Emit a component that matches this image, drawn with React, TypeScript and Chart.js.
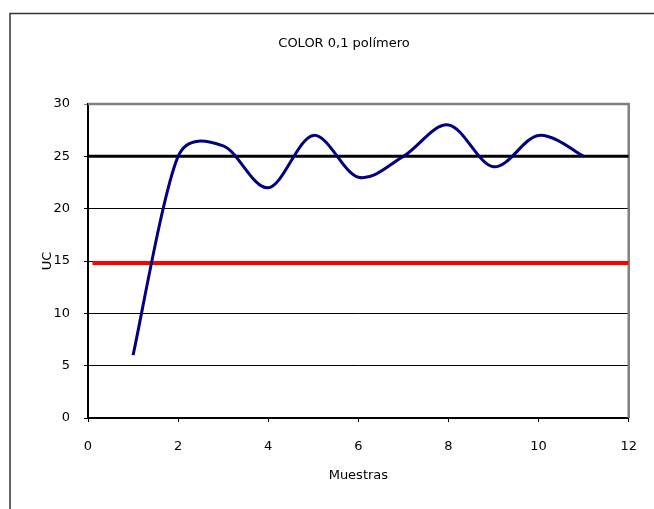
import React, { useEffect, useRef } from "react";
import { Chart, registerables } from "chart.js";

Chart.register(...registerables);

const sampleX = [1, 2, 3, 4, 5, 6, 7, 8, 9, 10, 11];
const colorValues = [6, 25, 26, 22, 27, 23, 25, 28, 24, 27, 25];
const upperLimitX = [0, 12];
const upperLimitY = [25, 25];
const lowerLimitX = [0.1, 12];
const lowerLimitY = [14.8, 14.8];
const xMin = 0;
const xMax = 12;
const xStep = 2;
const yMin = 0;
const yMax = 30;
const yStep = 5;
const chartTitle = "COLOR 0,1 polímero";
const xTitle = "Muestras";
const yTitle = "UC";

const FONT = '"DejaVu Sans", sans-serif';

const dist = (a: any, b: any) => Math.hypot(b.x - a.x, b.y - a.y);

// Excel-style smoothing: Bezier control points computed from the points
// that Chart.js has already placed through its scales.
const excelSmoothPlugin = {
  id: "excelSmooth",
  beforeDatasetsDraw(chart: any) {
    const meta = chart.getDatasetMeta(0);
    if (!meta || !meta.dataset) return;
    meta.dataset.updateControlPoints(chart.chartArea, "x");
    const pts = meta.data;
    const n = pts.length;
    for (let i = 0; i < n - 1; i++) {
      const p1 = pts[i];
      const p2 = pts[i + 1];
      const p0 = i > 0 ? pts[i - 1] : p1;
      const p3 = i + 2 < n ? pts[i + 2] : p2;
      const d12 = dist(p1, p2);
      const d02 = dist(p0, p2);
      const d13 = dist(p1, p3);
      let f = 1 / 6;
      let g = 1 / 6;
      if (d02 / 6 >= d12 / 2 && d02 > 0) f = d12 / 2 / d02;
      if (d13 / 6 >= d12 / 2 && d13 > 0) g = d12 / 2 / d13;
      p1.cp2x = p1.x + f * (p2.x - p0.x);
      p1.cp2y = p1.y + f * (p2.y - p0.y);
      p2.cp1x = p2.x - g * (p3.x - p1.x);
      p2.cp1y = p2.y - g * (p3.y - p1.y);
    }
    meta.dataset._path = undefined;
  },
};

const framePlugin = {
  id: "frame",
  beforeDraw(chart: any) {
    const ctx = chart.ctx;
    ctx.save();
    ctx.fillStyle = "#ffffff";
    ctx.fillRect(0, 0, chart.width, chart.height);
    ctx.strokeStyle = "#333333";
    ctx.lineWidth = 1.5;
    ctx.beginPath();
    ctx.moveTo(10, chart.height);
    ctx.lineTo(10, 13.5);
    ctx.lineTo(chart.width, 13.5);
    ctx.stroke();
    ctx.fillStyle = "#000000";
    ctx.font = "13px " + FONT;
    ctx.textAlign = "center";
    ctx.textBaseline = "middle";
    ctx.fillText(chartTitle, 344, 44);
    ctx.restore();
  },
  beforeDatasetsDraw(chart: any) {
    const { ctx, chartArea } = chart;
    ctx.save();
    ctx.strokeStyle = "#808080";
    ctx.lineWidth = 2.5;
    ctx.beginPath();
    ctx.moveTo(chartArea.left, chartArea.top);
    ctx.lineTo(chartArea.right, chartArea.top);
    ctx.lineTo(chartArea.right, chartArea.bottom);
    ctx.stroke();
    ctx.restore();
  },
};

export default function App() {
  const ref = useRef<HTMLCanvasElement | null>(null);

  useEffect(() => {
    if (!ref.current) return;
    const mainData = sampleX.map((x, i) => ({ x, y: colorValues[i] }));
    const upperData = upperLimitX.map((x, i) => ({ x, y: upperLimitY[i] }));
    const lowerData = lowerLimitX.map((x, i) => ({ x, y: lowerLimitY[i] }));
    const chart = new Chart(ref.current, {
      type: "scatter",
      data: {
        datasets: [
          {
            label: "COLOR",
            data: mainData,
            showLine: true,
            borderColor: "#000080",
            borderWidth: 3,
            pointRadius: 0,
            tension: 0.4,
            fill: false,
          },
          {
            label: "Límite superior",
            data: upperData,
            showLine: true,
            borderColor: "#000000",
            borderWidth: 3,
            pointRadius: 0,
            fill: false,
          },
          {
            label: "Límite inferior",
            data: lowerData,
            showLine: true,
            borderColor: "#ff0000",
            borderWidth: 4,
            pointRadius: 0,
            fill: false,
          },
        ],
      },
      options: {
        responsive: false,
        animation: false,
        layout: { padding: { left: 0, top: 104, right: 18, bottom: 0 } },
        plugins: {
          legend: { display: false },
          tooltip: { enabled: false },
          title: { display: false },
        },
        scales: {
          x: {
            type: "linear",
            min: xMin,
            max: xMax,
            afterFit: (s: any) => {
              s.height = 91;
            },
            ticks: {
              stepSize: xStep,
              color: "#000",
              font: { family: FONT, size: 13 },
              padding: 17,
              maxRotation: 0,
            },
            grid: {
              drawOnChartArea: false,
              drawTicks: true,
              tickLength: 4,
              color: "#000",
              lineWidth: 1,
            },
            border: { display: true, color: "#000", width: 2 },
            title: {
              display: true,
              text: xTitle,
              color: "#000",
              font: { family: FONT, size: 13 },
              padding: { top: 0, bottom: 26 },
            },
          },
          y: {
            type: "linear",
            min: yMin,
            max: yMax,
            afterFit: (s: any) => {
              s.width = 88;
            },
            ticks: {
              stepSize: yStep,
              color: "#000",
              font: { family: FONT, size: 13 },
              padding: 14,
            },
            grid: {
              drawTicks: true,
              tickLength: 4,
              color: (c: any) => (c.tick && c.tick.value === yMax ? "#808080" : "#000"),
              lineWidth: 1,
            },
            border: { display: true, color: "#000", width: 2 },
            title: {
              display: true,
              text: yTitle,
              color: "#000",
              font: { family: FONT, size: 13 },
              padding: { top: 40, bottom: 0 },
            },
          },
        },
      },
      plugins: [framePlugin, excelSmoothPlugin],
    } as any);
    return () => chart.destroy();
  }, []);

  return (
    <div style={{ position: "fixed", left: 0, top: 0, width: 654, height: 509, background: "#fff" }}>
      <canvas ref={ref} width={654} height={509} style={{ width: 654, height: 509, display: "block" }} />
    </div>
  );
}
